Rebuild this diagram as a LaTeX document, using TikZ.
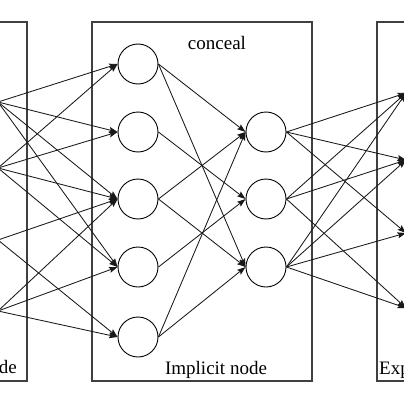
\documentclass[tikz,border=0pt]{standalone}
\usepackage{fontspec}
\setmainfont{Liberation Serif}
\usetikzlibrary{arrows.meta}
\begin{document}
\begin{tikzpicture}[x=1pt,y=-1pt,
  boxline/.style={draw=black!75,line width=1.2pt},
  neuron/.style={circle,draw=black,line width=0.9pt,minimum size=40pt,inner sep=0pt,fill=white},
  link/.style={draw=black!90,line width=0.85pt,-{Stealth[length=8.5pt,width=6pt,inset=1.5pt]}},
  lbl/.style={font=\fontsize{19}{22}\selectfont,inner sep=0pt,anchor=base}]
\useasboundingbox (0,0) rectangle (404,404);
\clip (0,0) rectangle (404,404);
\fill[white] (0,0) rectangle (404,404);
% boxes
\draw[boxline] (-60,22) rectangle (27,381);
\draw[boxline] (92,22) rectangle (312,381);
\draw[boxline] (377,22) rectangle (470,381);
% labels
\node[lbl] (tconceal) at (217,49) {conceal};
\node[lbl] (timplicit) at (216,374) {Implicit node};
\node[lbl,anchor=base east] (tleft) at (17,373) {Explicit node};
\node[lbl,anchor=base west] (tright) at (379,374) {Explicit node};
% off-canvas input and output points
\coordinate (I1) at (-2,102);
\coordinate (I2) at (-2,168);
\coordinate (I3) at (-2,240);
\coordinate (I4) at (-2,311);
\coordinate (O1) at (406,93);
\coordinate (O2) at (406,160);
\coordinate (O3) at (406,233);
\coordinate (O4) at (406,308);
% hidden neurons
\node[neuron] (H1) at (138,64) {};
\node[neuron] (H2) at (138,132) {};
\node[neuron] (H3) at (138,199) {};
\node[neuron] (H4) at (138,267) {};
\node[neuron] (H5) at (138,337) {};
\node[neuron] (A) at (266,132) {};
\node[neuron] (B) at (266,199) {};
\node[neuron] (C) at (266,267) {};
% input -> hidden
\foreach \s/\t in {I1/H1,I1/H2,I1/H3,I1/H4,I2/H1,I2/H2,I2/H3,I2/H4,I3/H3,I3/H5,I4/H3,I4/H4,I4/H5}
  \draw[link] (\s) -- (\t.west);
% hidden -> hidden
\foreach \s/\t in {H1/A,H1/C,H2/B,H3/A,H3/C,H4/B,H5/A,H5/C}
  \draw[link] (\s.east) -- (\t.west);
% hidden -> output
\foreach \s/\t in {A/O1,A/O2,A/O3,B/O1,B/O2,B/O4,C/O1,C/O2,C/O3,C/O4}
  \draw[link] (\s.east) -- (\t);
\end{tikzpicture}
\end{document}
